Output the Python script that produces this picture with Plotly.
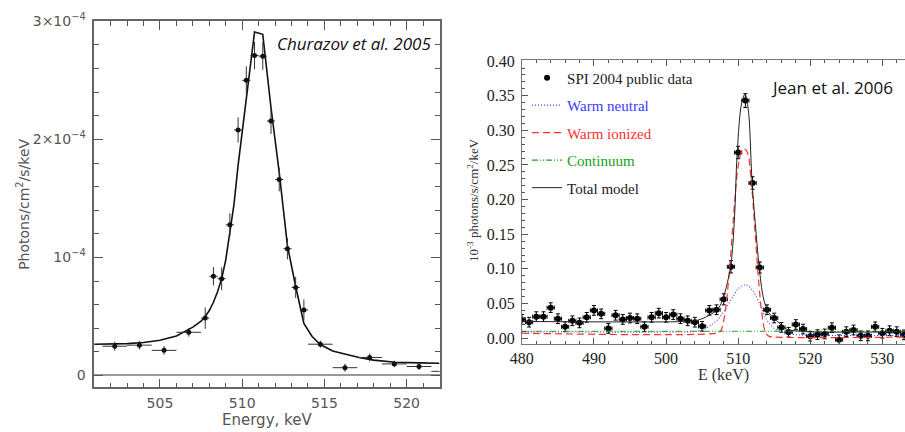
import plotly.graph_objects as go

# ---------------- Left panel: Churazov et al. 2005 (flux in units of 1e-4) ----------------
SCALE_L = 1e-4
chur_energy = [502.25, 503.75, 505.25, 506.75, 507.75, 508.25, 508.75, 509.25, 509.75, 510.25,
               510.75, 511.25, 511.75, 512.25, 512.75, 513.25, 513.75, 514.75, 516.25, 517.75,
               519.25, 520.75, 522.25]
chur_flux = [0.248, 0.257, 0.213, 0.366, 0.486, 0.84, 0.82, 1.276, 2.08, 2.50,
             2.71, 2.705, 2.156, 1.66, 1.074, 0.746, 0.555, 0.265, 0.066, 0.153,
             0.098, 0.076, 0.035]
chur_flux_err = [0.038, 0.037, 0.037, 0.037, 0.09, 0.078, 0.096, 0.098, 0.107, 0.12,
                 0.116, 0.116, 0.11, 0.10, 0.09, 0.089, 0.089, 0.03, 0.034, 0.034,
                 0.027, 0.03, 0.03]
chur_bin_half = [0.75, 0.75, 0.75, 0.75, 0.25, 0.25, 0.25, 0.25, 0.25, 0.25,
                 0.25, 0.25, 0.25, 0.25, 0.25, 0.25, 0.25, 0.75, 0.75, 0.75,
                 0.75, 0.75, 0.75]
chur_model_energy = [501.0, 502.0, 503.0, 504.0, 505.0, 506.0, 506.5, 507.0, 507.5, 507.75,
                     508.0, 508.25, 508.5, 508.75, 509.0, 509.25, 509.5, 509.75, 510.25, 510.75,
                     511.25, 511.75, 512.25, 512.75, 513.25, 513.75, 514.25, 514.75, 515.5, 516.25,
                     517.1, 518.0, 519.3, 520.75, 522.0]
chur_model_flux = [0.265, 0.265, 0.27, 0.28, 0.298, 0.335, 0.37, 0.41, 0.46, 0.50,
                   0.55, 0.62, 0.71, 0.82, 0.98, 1.2, 1.45, 1.78, 2.34, 2.91,
                   2.89, 2.27, 1.72, 1.10, 0.754, 0.44, 0.33, 0.262, 0.208, 0.18,
                   0.153, 0.13, 0.112, 0.107, 0.104]
chur_yticks = [0, 1, 2, 3]
chur_yticktext = ["0", "10<sup>−4</sup>", "2×10<sup>−4</sup>", "3×10<sup>−4</sup>"]

# ---------------- Right panel: Jean et al. 2006 ----------------
jean_energy = list(range(480, 534))
jean_flux = [0.027, 0.023, 0.031, 0.031, 0.044, 0.028, 0.0164, 0.025, 0.022, 0.030,
             0.040, 0.035, 0.014, 0.033, 0.027, 0.029, 0.028, 0.0164, 0.030, 0.036,
             0.030, 0.034, 0.028, 0.025, 0.023, 0.017, 0.040, 0.041, 0.056, 0.103,
             0.268, 0.343, 0.224, 0.102, 0.041, 0.029, 0.0154, 0.0084, 0.0196, 0.013,
             0.0028, 0.005, 0.006, 0.015, -0.0023, 0.0093, 0.0117, 0.0033, 0.0033, 0.0163,
             0.007, 0.0107, 0.0093, 0.0047]
jean_flux_err = [0.007] * 28 + [0.008, 0.009, 0.009, 0.010, 0.009, 0.008] + [0.007] * 20

total_energy = [480, 503, 504, 505, 506, 507, 507.5, 508, 508.5, 509, 509.5, 509.87, 510.5, 510.95,
                511.4, 511.93, 512.5, 512.9, 513.5, 514.0, 514.5, 515.1, 516.5, 517.5, 518.8, 520, 534]
total_flux = [0.024, 0.024, 0.025, 0.028, 0.033, 0.040, 0.047, 0.060, 0.080, 0.106, 0.175, 0.268, 0.34, 0.352,
              0.33, 0.226, 0.15, 0.104, 0.058, 0.042, 0.033, 0.028, 0.014, 0.011, 0.0098, 0.009, 0.009]

ionized_energy = [480, 507.0, 507.5, 508.0, 508.5, 509.0, 509.5, 510.0, 510.5, 510.9, 511.3, 511.8,
                  512.3, 512.8, 513.3, 513.8, 514.3, 515.0, 534]
ionized_flux = [0.007, 0.007, 0.009, 0.025, 0.065, 0.125, 0.195, 0.248, 0.27, 0.273, 0.268, 0.228,
                0.16, 0.088, 0.035, 0.008, 0.0025, 0.0015, 0.0015]

neutral_energy = [480, 503, 504, 505, 506, 507, 508, 509, 510, 511, 512, 513, 514, 515, 516, 517, 518, 520, 534]
neutral_flux = [0.009, 0.009, 0.0095, 0.012, 0.017, 0.025, 0.038, 0.055, 0.071, 0.077, 0.069, 0.049,
                0.026, 0.014, 0.0095, 0.007, 0.005, 0.004, 0.004]

continuum_energy = [480, 534]
continuum_flux = [0.010, 0.010]

BLUE, RED, GREEN = "#3a3aff", "#ff3030", "#20a020"

fig = go.Figure()

# left panel
fig.add_trace(go.Scatter(
    x=chur_model_energy, y=[v * SCALE_L for v in chur_model_flux], mode="lines",
    line=dict(color="#111", width=1.6), xaxis="x", yaxis="y", showlegend=False, hoverinfo="skip"))
fig.add_trace(go.Scatter(
    x=chur_energy, y=[v * SCALE_L for v in chur_flux], mode="markers",
    marker=dict(color="#111", size=5, symbol="circle"),
    error_y=dict(type="data", array=[v * SCALE_L for v in chur_flux_err], color="#333", thickness=1, width=0),
    error_x=dict(type="data", array=chur_bin_half, color="#333", thickness=1, width=0),
    xaxis="x", yaxis="y", showlegend=False))

# right panel
fig.add_trace(go.Scatter(
    x=jean_energy, y=jean_flux, mode="markers", name="SPI 2004 public data",
    marker=dict(color="black", size=6, symbol="circle"),
    error_y=dict(type="data", array=jean_flux_err, color="black", thickness=1, width=2),
    error_x=dict(type="data", array=[0.5] * len(jean_energy), color="black", thickness=1, width=2),
    xaxis="x2", yaxis="y2", legendgroup="a"))
fig.add_trace(go.Scatter(
    x=neutral_energy, y=neutral_flux, mode="lines", line_shape="spline",
    name=f'<span style="color:{BLUE}">Warm neutral</span>',
    line=dict(color=BLUE, width=1.1, dash="1px,2px"), xaxis="x2", yaxis="y2", legendgroup="b"))
fig.add_trace(go.Scatter(
    x=ionized_energy, y=ionized_flux, mode="lines", line_shape="spline",
    name=f'<span style="color:{RED}">Warm ionized</span>',
    line=dict(color=RED, width=1.2, dash="7px,4px"), xaxis="x2", yaxis="y2", legendgroup="c"))
fig.add_trace(go.Scatter(
    x=continuum_energy, y=continuum_flux, mode="lines",
    name=f'<span style="color:{GREEN}">Continuum</span>',
    line=dict(color=GREEN, width=1.1, dash="6px,2px,1px,2px,1px,2px"), xaxis="x2", yaxis="y2", legendgroup="d"))
fig.add_trace(go.Scatter(
    x=total_energy, y=total_flux, mode="lines", line_shape="spline", name="Total model",
    line=dict(color="#222", width=1), xaxis="x2", yaxis="y2", legendgroup="e"))

W, H = 905, 432
left_font = dict(family="DejaVu Sans", size=14, color="#555")
right_font = dict(family="Liberation Serif", size=16, color="#222")


def ann(text, x, y, font, angle=0):
    return dict(text=text, x=x / W, y=1 - y / H, xref="paper", yref="paper",
                xanchor="center", yanchor="middle", showarrow=False, textangle=angle, font=font)


fig.update_layout(
    width=W, height=H, margin=dict(l=0, r=0, t=0, b=0),
    paper_bgcolor="white", plot_bgcolor="white",
    xaxis=dict(domain=[83.3 / W, 433.3 / W], range=[501, 522], anchor="y",
               tickmode="linear", tick0=505, dtick=5, ticks="inside", ticklen=9, tickcolor="#555",
               minor=dict(dtick=1, ticks="inside", ticklen=5, tickcolor="#555"),
               showline=True, linecolor="#666", linewidth=1.5, mirror="ticks",
               showgrid=False, zeroline=False, tickfont=left_font, ticklabelstandoff=2),
    yaxis=dict(domain=[(H - 389) / H, (H - 11.7) / H], range=[-0.1e-4, 3.0e-4], anchor="x",
               tickmode="array", tickvals=[v * SCALE_L for v in chur_yticks], ticktext=chur_yticktext,
               ticks="inside", ticklen=9, tickcolor="#555",
               minor=dict(tickmode="linear", tick0=0, dtick=0.2e-4, ticks="inside", ticklen=5, tickcolor="#555"),
               showline=True, linecolor="#666", linewidth=1.5, mirror="ticks",
               showgrid=False, zeroline=True, zerolinecolor="#999", zerolinewidth=1.5,
               tickfont=left_font, ticklabelstandoff=4),
    xaxis2=dict(domain=[516.7 / W, 1.0], range=[480, 480 + (W - 516.7) / 7.307], anchor="y2",
                tickmode="linear", tick0=480, dtick=10, ticks="inside", ticklen=6, tickcolor="#555",
                minor=dict(dtick=2, ticks="inside", ticklen=3, tickcolor="#555"),
                showline=True, linecolor="#777", linewidth=1, mirror="ticks",
                showgrid=False, zeroline=False, tickfont=right_font),
    yaxis2=dict(domain=[(H - 344) / H, (H - 51.7) / H], range=[-0.008, 0.4014], anchor="x2",
                tickmode="linear", tick0=0, dtick=0.05, tickformat=".2f",
                ticks="inside", ticklen=6, tickcolor="#555",
                minor=dict(dtick=0.01, ticks="inside", ticklen=3, tickcolor="#555"),
                showline=True, linecolor="#777", linewidth=1, mirror=False,
                showgrid=False, zeroline=False, tickfont=right_font, ticklabelstandoff=3),
    legend=dict(x=522 / W, y=1 - 53 / H, xanchor="left", yanchor="top",
                bgcolor="rgba(0,0,0,0)", font=dict(family="Liberation Serif", size=15, color="#222"),
                tracegroupgap=5, itemwidth=30),
    showlegend=True,
    annotations=[
        ann("Energy, keV", 258, 423, dict(family="DejaVu Sans", size=15, color="#555")),
        ann("Photons/cm<sup>2</sup>/s/keV", 11, 200, dict(family="DejaVu Sans", size=14, color="#555"), -90),
        ann("<i>Churazov et al. 2005</i>", 347, 35, dict(family="Open Sans", size=17, color="#111")),
        ann("E (keV)", 721, 376, dict(family="Liberation Serif", size=16, color="#333")),
        ann("10<sup>-3</sup> photons/s/cm<sup>2</sup>/keV", 467, 196,
            dict(family="Liberation Serif", size=13, color="#333"), -90),
        ann("Jean et al. 2006", 831, 80, dict(family="Open Sans", size=17, color="#111")),
    ],
)

fig.write_html("out.html")
